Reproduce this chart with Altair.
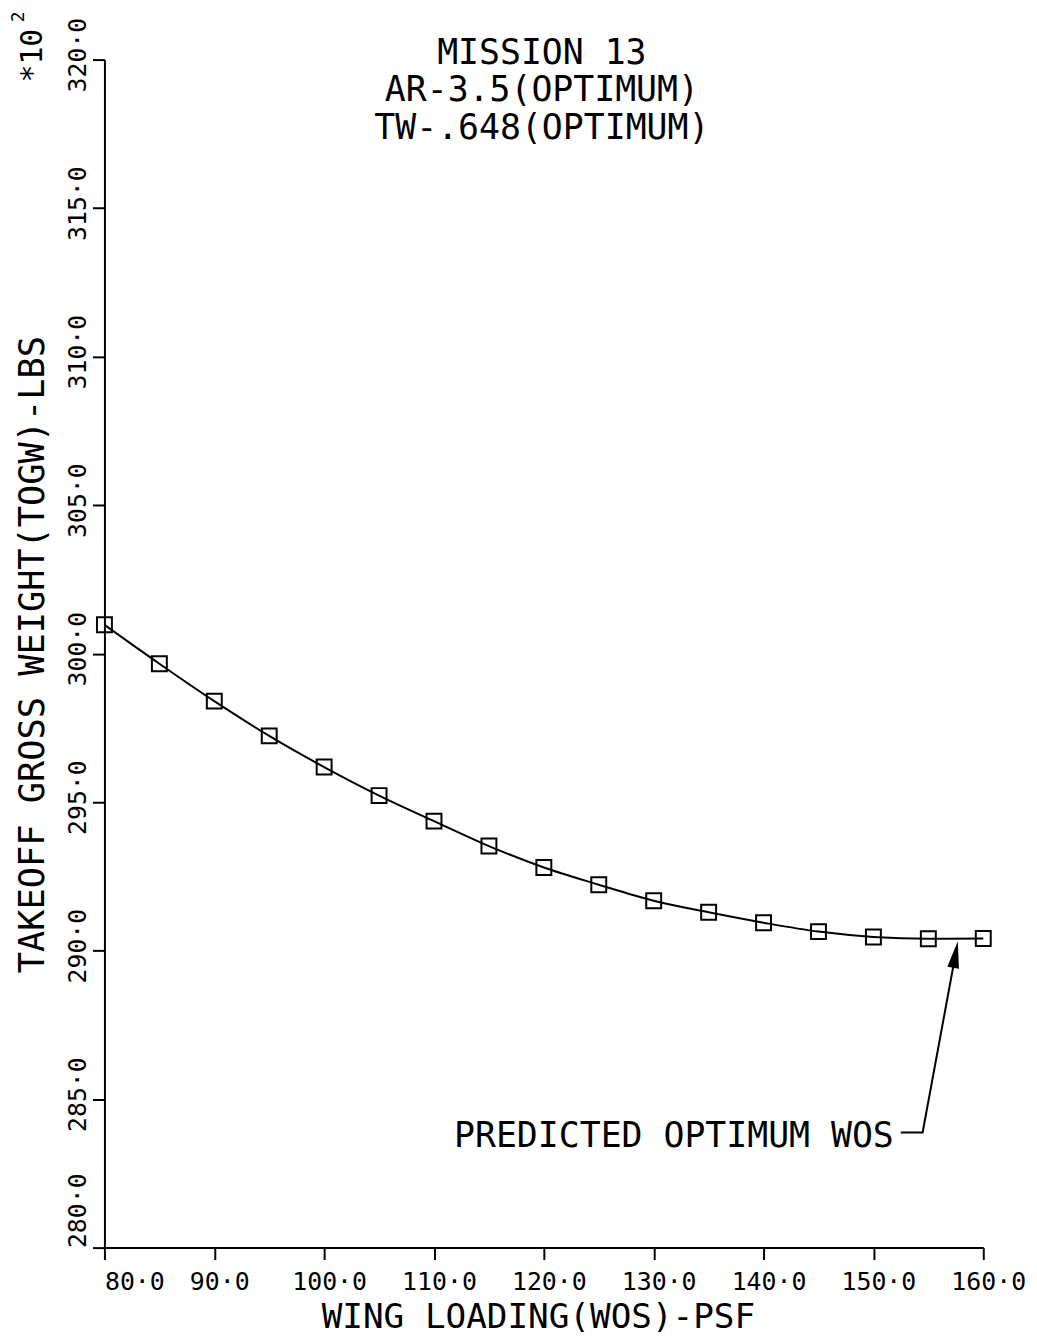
import altair as alt
import pandas as pd

# ---- data ----
wos = [80, 85, 90, 95, 100, 105, 110, 115, 120, 125, 130, 135, 140, 145, 150, 155, 160]
togw = [300.97, 299.66, 298.40, 297.23, 296.18, 295.22, 294.36, 293.52, 292.80,
        292.22, 291.68, 291.29, 290.94, 290.64, 290.46, 290.40, 290.41]
x_ticks = [80, 90, 100, 110, 120, 130, 140, 150, 160]
y_ticks = [280, 285, 290, 295, 300, 305, 310, 315, 320]
title_lines = ["MISSION 13", "AR-3.5(OPTIMUM)", "TW-.648(OPTIMUM)"]
note_text = "PREDICTED OPTIMUM WOS"
arrow_x = [152.49, 154.48, 157.47]
arrow_y = [283.88, 283.88, 289.87]
head_x = [157.47]
head_y = [289.87]

FONT = "DejaVu Sans Mono"
W, H = 884, 1195

df = pd.DataFrame({"wos": wos, "togw": togw})
arrow_df = pd.DataFrame({"wos": arrow_x, "togw": arrow_y, "i": list(range(len(arrow_x)))})
head_df = pd.DataFrame({"wos": head_x, "togw": head_y})
one = pd.DataFrame({"k": [0]})

xs = alt.Scale(domain=[80, 160], nice=False, zero=False)
ys = alt.Scale(domain=[280, 320], nice=False, zero=False)
label_expr = "replace(format(datum.value, '.1f'), '.', '·')"

common_axis = dict(
    labelExpr=label_expr, labelFlush=False, labelOverlap=False, labelBaseline="alphabetic",
    labelFont=FONT, labelFontSize=25, labelColor="black",
    tickSize=12, tickWidth=2, tickColor="black", domainColor="black", domainWidth=2,
    grid=False, titleFont=FONT, titleFontWeight="normal", titleColor="black",
)

x_axis = alt.Axis(
    values=x_ticks, title="WING LOADING(WOS)-PSF",
    labelAlign={"condition": {"test": "datum.value == 80", "value": "left"}, "value": "center"},
    labelOffset={"condition": {"test": "datum.value == 80", "value": 0}, "value": 5},
    labelPadding=30, titleFontSize=34.5, titleX=436, titleY=80,
    titleBaseline="alphabetic", titleAlign="center", **common_axis)

y_axis = alt.Axis(
    values=y_ticks, title="TAKEOFF GROSS WEIGHT(TOGW)-LBS", labelAngle=270,
    labelAlign={"condition": {"test": "datum.value == 280", "value": "left"}, "value": "center"},
    labelOffset={"condition": {"test": "datum.value == 280", "value": 0}, "value": -5},
    labelPadding=7, titleFontSize=35.5, titleAngle=270, titleX=-72, titleY=598,
    titleBaseline="middle", titleAlign="center", **common_axis)

base = alt.Chart(df)
curve = base.mark_line(color="black", strokeWidth=2, interpolate="monotone").encode(
    x=alt.X("wos:Q", scale=xs, axis=x_axis),
    y=alt.Y("togw:Q", scale=ys, axis=y_axis),
)
pts = base.mark_point(shape="square", size=225, strokeWidth=2, color="black",
                      filled=False, opacity=1).encode(
    x=alt.X("wos:Q", scale=xs), y=alt.Y("togw:Q", scale=ys))

arrow = alt.Chart(arrow_df).mark_line(color="black", strokeWidth=2).encode(
    x=alt.X("wos:Q", scale=xs), y=alt.Y("togw:Q", scale=ys), order="i:Q")
head = alt.Chart(head_df).mark_point(
    shape="M0,-1L0.44,1L-0.44,1Z", size=729, filled=True, color="black", opacity=1, angle=10
).encode(x=alt.X("wos:Q", scale=xs), y=alt.Y("togw:Q", scale=ys))

title = alt.Chart(one).mark_text(
    font=FONT, fontSize=35, align="center", baseline="alphabetic", lineHeight=38, color="black"
).encode(x=alt.value(440), y=alt.value(4), text=alt.value(title_lines))

note = alt.Chart(one).mark_text(
    font=FONT, fontSize=35, align="right", baseline="alphabetic", color="black"
).encode(x=alt.value(794), y=alt.value(1094), text=alt.value(note_text))

mult = alt.Chart(one).mark_text(
    font=FONT, fontSize=30, align="center", baseline="middle", angle=270, color="black"
).encode(x=alt.value(-72), y=alt.value(-4), text=alt.value("*10"))
sup = alt.Chart(one).mark_text(
    font=FONT, fontSize=18, align="center", baseline="middle", angle=270, color="black"
).encode(x=alt.value(-86), y=alt.value(-43), text=alt.value("2"))

chart = alt.layer(curve, pts, arrow, head, title, note, mult, sup).properties(
    width=W, height=H,
    autosize=alt.AutoSizeParams(type="none"),
    padding={"left": 97, "top": 48, "right": 46, "bottom": 86},
    background="white",
).configure_view(strokeWidth=0)

chart.save("out.html", embed_options={"renderer": "svg", "actions": False})
